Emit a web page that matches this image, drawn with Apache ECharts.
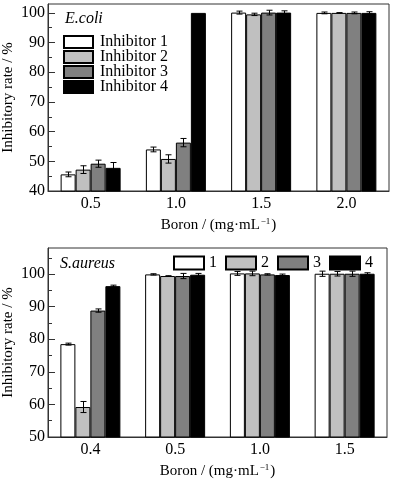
<!DOCTYPE html>
<html><head><meta charset="utf-8">
<script src="https://cdn.jsdelivr.net/npm/echarts@6/dist/echarts.min.js"></script>
<style>html,body{margin:0;padding:0;background:#fff}#c{width:395px;height:484px}</style>
</head><body><div id="c"></div>
<script>
const seriesNames = ['Inhibitor 1', 'Inhibitor 2', 'Inhibitor 3', 'Inhibitor 4'];
const seriesColors = ['#ffffff', '#c0c0c0', '#808080', '#000000'];

const ecoliCategories = ['0.5', '1.0', '1.5', '2.0'];
const ecoliInh1 = [45.6, 54.0, 100.1, 100.0];
const ecoliInh2 = [47.2, 50.8, 99.5, 100.0];
const ecoliInh3 = [49.2, 56.3, 100.1, 100.0];
const ecoliInh4 = [47.8, 100.0, 100.1, 100.0];
const ecoliErr1 = [0.8, 0.8, 0.5, 0.3];
const ecoliErr2 = [1.3, 1.4, 0.4, 0.1];
const ecoliErr3 = [1.2, 1.4, 0.8, 0.3];
const ecoliErr4 = [1.8, 0, 0.6, 0.4];
const ecoliMajorTicks = [40, 50, 60, 70, 80, 90, 100];
const ecoliMinorTicks = [45, 55, 65, 75, 85, 95];

const saureusCategories = ['0.4', '0.5', '1.0', '1.5'];
const saureusInh1 = [78.5, 99.9, 100.2, 100.1];
const saureusInh2 = [59.2, 99.4, 100.2, 100.1];
const saureusInh3 = [88.8, 99.4, 99.9, 100.1];
const saureusInh4 = [96.3, 99.8, 99.7, 100.1];
const saureusErr1 = [0.3, 0.2, 0.6, 0.8];
const saureusErr2 = [1.7, 0.1, 0.7, 0.7];
const saureusErr3 = [0.5, 0.8, 0.2, 0.8];
const saureusErr4 = [0.3, 0.4, 0.3, 0.3];
const saureusMajorTicks = [50, 60, 70, 80, 90, 100];
const saureusMinorTicks = [55, 65, 75, 85, 95, 105];

const BAR_W = 15;
const FONT = '"Liberation Serif", "Times New Roman", serif';
const AX = '#333';

const chart = echarts.init(document.getElementById('c'), null, {renderer: 'canvas'});

function xAxisFor(gi, cats) {
  return {
    type: 'category', gridIndex: gi, data: cats,
    axisLine: {lineStyle: {color: AX, width: 1}},
    axisTick: {inside: true, length: 5, lineStyle: {color: AX}},
    axisLabel: {color: '#000', fontFamily: FONT, fontSize: 16, margin: 5},
    name: 'Boron / (mg·mL{sup|−1})',
    nameLocation: 'middle', nameGap: 26, nameMoveOverlap: false,
    nameTextStyle: {color: '#000', fontFamily: FONT, fontSize: 15,
      rich: {sup: {fontFamily: FONT, fontSize: 9, color: '#000', padding: [0, 1, 8, 1]}}}
  };
}
function yAxesFor(gi, min, max, major, minor) {
  return [{
    type: 'value', gridIndex: gi, min: min, max: max, position: 'left',
    axisLine: {show: true, lineStyle: {color: AX}},
    axisTick: {show: true, inside: true, length: 7, customValues: major, lineStyle: {color: AX}},
    axisLabel: {customValues: major, color: '#000', fontFamily: FONT, fontSize: 16, margin: 3},
    splitLine: {show: false},
    name: 'Inhibitory rate / %', nameLocation: 'middle', nameGap: 32, nameMoveOverlap: false,
    nameTextStyle: {color: '#000', fontFamily: FONT, fontSize: 15}
  }, {
    type: 'value', gridIndex: gi, min: min, max: max, position: 'left',
    axisLine: {show: false},
    axisTick: {show: true, inside: true, length: 4, customValues: minor, lineStyle: {color: AX}},
    axisLabel: {show: false},
    splitLine: {show: false}
  }];
}

function barSeries(name, k, vals, xi, yi) {
  return {
    type: 'bar', name: name, data: vals, xAxisIndex: xi, yAxisIndex: yi,
    barWidth: BAR_W, barGap: '0%',
    itemStyle: {color: seriesColors[k], borderColor: '#000', borderWidth: 1},
    emphasis: {disabled: true}, z: 2
  };
}
function errSeries(k, vals, errs, xi, yi) {
  return {
    type: 'custom', name: 'err' + xi + k, xAxisIndex: xi, yAxisIndex: yi, z: 5,
    data: vals.map((v, i) => [i, v, errs[i]]),
    encode: {x: 0, y: 1},
    renderItem: function (params, api) {
      const c = api.value(0), v = api.value(1), e = api.value(2);
      if (!e) return null;
      const top = api.coord([c, v + e]);
      const bot = api.coord([c, v - e]);
      const x = Math.round(top[0] + (k - 1.5) * BAR_W) + 0.5;
      const cap = 3;
      const st = {stroke: '#000', lineWidth: 1};
      return {type: 'group', children: [
        {type: 'line', shape: {x1: x, y1: top[1], x2: x, y2: bot[1]}, style: st},
        {type: 'line', shape: {x1: x - cap, y1: top[1], x2: x + cap, y2: top[1]}, style: st},
        {type: 'line', shape: {x1: x - cap, y1: bot[1], x2: x + cap, y2: bot[1]}, style: st}
      ]};
    }
  };
}

const ecoliVals = [ecoliInh1, ecoliInh2, ecoliInh3, ecoliInh4];
const ecoliErrs = [ecoliErr1, ecoliErr2, ecoliErr3, ecoliErr4];
const saureusVals = [saureusInh1, saureusInh2, saureusInh3, saureusInh4];
const saureusErrs = [saureusErr1, saureusErr2, saureusErr3, saureusErr4];

const series = [];
seriesNames.forEach((n, k) => series.push(barSeries(n, k, ecoliVals[k], 0, 0)));
seriesNames.forEach((n, k) => series.push(barSeries(n, k, saureusVals[k], 1, 2)));
seriesNames.forEach((n, k) => series.push(errSeries(k, ecoliVals[k], ecoliErrs[k], 0, 0)));
seriesNames.forEach((n, k) => series.push(errSeries(k, saureusVals[k], saureusErrs[k], 1, 2)));

chart.setOption({
  animation: false,
  textStyle: {fontFamily: FONT},
  grid: [
    {left: 48, top: 4, width: 341, height: 187, show: true, borderColor: AX, borderWidth: 1, backgroundColor: 'transparent', outerBoundsMode: 'none', containLabel: false},
    {left: 48, top: 248, width: 339, height: 189, show: true, borderColor: AX, borderWidth: 1, backgroundColor: 'transparent', outerBoundsMode: 'none', containLabel: false}
  ],
  title: [
    {text: 'E.coli', left: 65, top: 11, padding: 0, textStyle: {fontFamily: FONT, fontStyle: 'italic', fontWeight: 'normal', fontSize: 16, color: '#000'}},
    {text: 'S.aureus', left: 60, top: 256, padding: 0, textStyle: {fontFamily: FONT, fontStyle: 'italic', fontWeight: 'normal', fontSize: 16, color: '#000'}}
  ],
  legend: [
    {data: seriesNames, orient: 'vertical', left: 63, top: 34, icon: 'rect', padding: 0,
     itemWidth: 29, itemHeight: 12, itemGap: -1, selectedMode: false,
     textStyle: {fontFamily: FONT, fontSize: 16, color: '#000', lineHeight: 12, padding: [0, 0, 0, 2]}},
    {data: seriesNames, orient: 'horizontal', left: 173, top: 255, width: 222, icon: 'rect', padding: 0,
     itemWidth: 30, itemHeight: 13, itemGap: 8, selectedMode: false,
     formatter: n => n.replace('Inhibitor ', ''),
     textStyle: {fontFamily: FONT, fontSize: 16, color: '#000', lineHeight: 13}}
  ],
  xAxis: [xAxisFor(0, ecoliCategories), xAxisFor(1, saureusCategories)],
  yAxis: [].concat(yAxesFor(0, 40, 103, ecoliMajorTicks, ecoliMinorTicks),
                   yAxesFor(1, 50, 108, saureusMajorTicks, saureusMinorTicks)),
  series: series
});
</script></body></html>
